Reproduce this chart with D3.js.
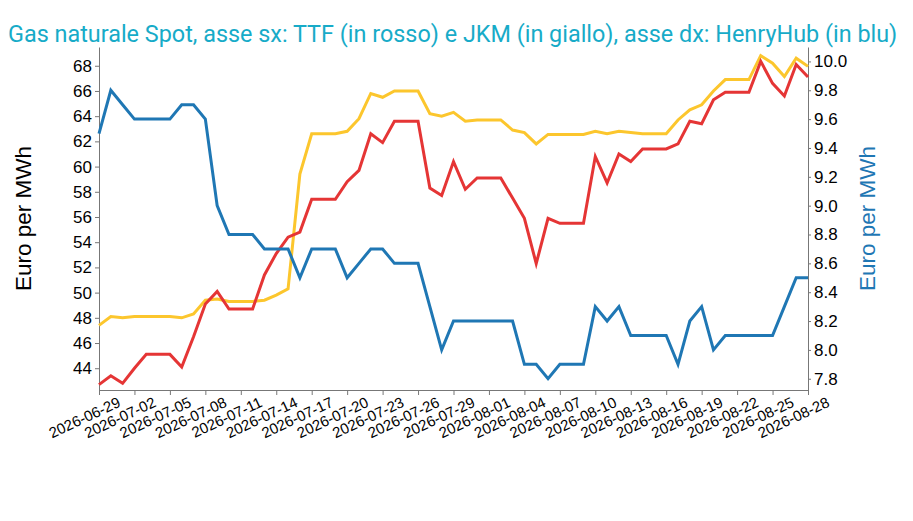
<!DOCTYPE html>
<html>
<head>
<meta charset="utf-8">
<script src="https://cdnjs.cloudflare.com/ajax/libs/d3/7.8.5/d3.min.js"></script>
<style>
  body { margin: 0; background: #fff; }
  .axis text { font-family: "Liberation Sans", Arial, sans-serif; fill: #000; }
  .axis path, .axis line { stroke: #777; }
</style>
</head>
<body>
<div id="chart"></div>
<script>
// Daily series, 2026-06-29 .. 2026-08-28
var startDate = '2026-06-29';
var ttf = [42.7, 43.4, 42.8, 44.0, 45.1, 45.1, 45.1, 44.1, 46.5, 49.1,
           50.1, 48.7, 48.7, 48.7, 51.4, 53.1, 54.4, 54.8, 57.4, 57.4,
           57.4, 58.8, 59.7, 62.6, 61.9, 63.6, 63.6, 63.6, 58.3, 57.7,
           60.4, 58.2, 59.1, 59.1, 59.1, 57.5, 55.9, 52.3, 55.9, 55.5,
           55.5, 55.5, 60.8, 58.7, 61.0, 60.4, 61.4, 61.4, 61.4, 61.8,
           63.6, 63.4, 65.3, 65.9, 65.9, 65.9, 68.35, 66.6, 65.6, 68.1, 67.1];
var jkm = [47.4, 48.1, 48.0, 48.1, 48.1, 48.1, 48.1, 48.0, 48.3, 49.4,
           49.5, 49.3, 49.3, 49.3, 49.4, 49.8, 50.3, 59.4, 62.6, 62.6,
           62.6, 62.8, 63.8, 65.8, 65.5, 66.0, 66.0, 66.0, 64.2, 64.0,
           64.3, 63.6, 63.7, 63.7, 63.7, 62.9, 62.7, 61.8, 62.55, 62.55,
           62.55, 62.55, 62.8, 62.6, 62.8, 62.7, 62.6, 62.6, 62.6, 63.7,
           64.5, 64.9, 66.0, 66.9, 66.9, 66.9, 68.8, 68.2, 67.15, 68.6, 67.95];
var henryHub = [9.5, 9.8, 9.7, 9.6, 9.6, 9.6, 9.6, 9.7, 9.7, 9.6,
                9.0, 8.8, 8.8, 8.8, 8.7, 8.7, 8.7, 8.5, 8.7, 8.7,
                8.7, 8.5, 8.6, 8.7, 8.7, 8.6, 8.6, 8.6, 8.3, 8.0,
                8.2, 8.2, 8.2, 8.2, 8.2, 8.2, 7.9, 7.9, 7.8, 7.9,
                7.9, 7.9, 8.3, 8.2, 8.3, 8.1, 8.1, 8.1, 8.1, 7.9,
                8.2, 8.3, 8.0, 8.1, 8.1, 8.1, 8.1, 8.1, 8.3, 8.5, 8.5];
var leftTicks = [44, 46, 48, 50, 52, 54, 56, 58, 60, 62, 64, 66, 68];
var rightTicks = [7.8, 8.0, 8.2, 8.4, 8.6, 8.8, 9.0, 9.2, 9.4, 9.6, 9.8, 10.0];
var rightDomain = [7.722, 10.1];
var tickEveryDays = 3;
var titleText = 'Gas naturale Spot, asse sx: TTF (in rosso) e JKM (in giallo), asse dx: HenryHub (in blu)';
var yLabel = 'Euro per MWh';

var width = 913,
    height = 521,
    margin = {top: 47, right: 105, bottom: 131, left: 99};

var parse = d3.timeParse('%Y-%m-%d'),
    fmt = d3.timeFormat('%Y-%m-%d');
var dates = ttf.map(function(d, i) { return d3.timeDay.offset(parse(startDate), i); });
var xTicks = dates.filter(function(d, i) { return i % tickEveryDays === 0; });

var svg = d3.select('#chart')
    .append('svg')
    .attr('width', width)
    .attr('height', height);

// Scales
var x = d3.scaleTime()
    .domain(d3.extent(dates))
    .range([margin.left, width - margin.right]);

var euroVals = ttf.concat(jkm);
var yLeft = d3.scaleLinear()
    .domain([d3.min(euroVals) * 0.99, d3.max(euroVals) * 1.01])
    .range([height - margin.bottom, margin.top]);

var yRight = d3.scaleLinear()
    .domain(rightDomain)
    .range([height - margin.bottom, margin.top]);

// Title
svg.append('text')
    .attr('x', 8)
    .attr('y', 42)
    .style('font-family', 'Roboto, sans-serif')
    .style('font-size', '23.4px')
    .style('fill', '#17abc8')
    .text(titleText);

// Axes
var xAxis = svg.append('g')
    .attr('class', 'axis')
    .attr('transform', 'translate(0,' + (height - margin.bottom) + ')')
    .call(d3.axisBottom(x)
        .tickValues(xTicks)
        .tickFormat(fmt)
        .tickSize(5)
        .tickSizeOuter(0));
xAxis.selectAll('text')
    .style('font-size', '15px')
    .style('text-anchor', 'end')
    .attr('y', 0)
    .attr('dy', 0)
    .attr('transform', 'translate(22,16)rotate(-25)');

svg.append('g')
    .attr('class', 'axis')
    .attr('transform', 'translate(' + margin.left + ',0)')
    .call(d3.axisLeft(yLeft).tickValues(leftTicks).tickSize(4).tickPadding(3).tickSizeOuter(0))
    .selectAll('text')
    .style('font-size', '17px');

svg.append('g')
    .attr('class', 'axis')
    .attr('transform', 'translate(' + (width - margin.right) + ',0)')
    .call(d3.axisRight(yRight).tickValues(rightTicks).tickFormat(d3.format('.1f'))
        .tickSize(3).tickPadding(3).tickSizeOuter(0))
    .selectAll('text')
    .style('font-size', '17px');

// Axis labels
var midY = (margin.top + height - margin.bottom) / 2;
svg.append('text')
    .attr('transform', 'translate(31,' + midY + ')rotate(-90)')
    .style('text-anchor', 'middle')
    .style('font-family', '"Liberation Sans", Arial, sans-serif')
    .style('font-size', '22.5px')
    .style('fill', '#000')
    .text(yLabel);

svg.append('text')
    .attr('transform', 'translate(875,' + midY + ')rotate(-90)')
    .style('text-anchor', 'middle')
    .style('font-family', '"Liberation Sans", Arial, sans-serif')
    .style('font-size', '22.5px')
    .style('fill', '#1f77b4')
    .text(yLabel);

// Lines
var lineLeft = d3.line()
    .x(function(d, i) { return x(dates[i]); })
    .y(function(d) { return yLeft(d); });
var lineRight = d3.line()
    .x(function(d, i) { return x(dates[i]); })
    .y(function(d) { return yRight(d); });

var series = [
    {values: jkm, gen: lineLeft, color: '#fcc62d'},
    {values: ttf, gen: lineLeft, color: '#e53535'},
    {values: henryHub, gen: lineRight, color: '#1f77b4'}
];

svg.selectAll('path.series')
    .data(series)
    .enter().append('path')
    .attr('class', 'series')
    .attr('fill', 'none')
    .attr('stroke', function(d) { return d.color; })
    .attr('stroke-width', 3)
    .attr('stroke-linejoin', 'miter')
    .attr('d', function(d) { return d.gen(d.values); });
</script>
</body>
</html>
